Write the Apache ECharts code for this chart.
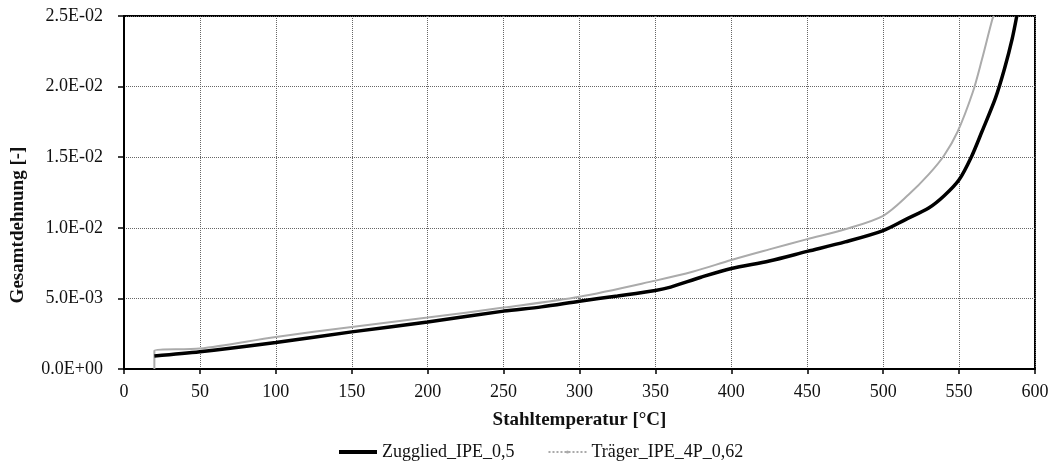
<!DOCTYPE html>
<html>
<head>
<meta charset="utf-8">
<script src="https://cdn.jsdelivr.net/npm/echarts@6/dist/echarts.min.js"></script>
<style>
  html, body { margin: 0; padding: 0; background: #fff; }
  #chart { width: 1053px; height: 462px; }
</style>
</head>
<body>
<div id="chart"></div>
<script>
// Temperaturen [°C] und Gesamtdehnung [-]
var zuggliedTemp = [20, 50, 100, 150, 200, 250, 275, 300, 325, 350, 360, 380, 400, 425, 450, 475, 500, 515, 530, 540, 550, 558, 565, 574, 580, 585, 588];
var zuggliedDehnung = [0.00092, 0.00122, 0.00188, 0.00263, 0.00333, 0.0041, 0.0044, 0.0048, 0.00517, 0.00556, 0.0058, 0.0065, 0.00712, 0.00765, 0.00833, 0.009, 0.0098, 0.0106, 0.0114, 0.01225, 0.0134, 0.015, 0.0168, 0.0192, 0.0213, 0.0234, 0.025];

var traegerTemp = [20, 20, 50, 100, 150, 200, 250, 300, 350, 375, 400, 425, 450, 475, 500, 517, 530, 540, 549, 559, 565, 572, 573];
var traegerDehnung = [0, 0.00129, 0.00145, 0.00227, 0.00298, 0.00364, 0.00435, 0.00512, 0.00626, 0.0069, 0.00772, 0.00847, 0.0092, 0.0099, 0.01085, 0.01237, 0.01378, 0.0151, 0.0168, 0.0196, 0.0219, 0.0248, 0.025];

var seriesNames = ['Zugglied_IPE_0,5', 'Träger_IPE_4P_0,62'];

function pairs(xs, ys) {
    var out = [];
    for (var i = 0; i < xs.length; i++) out.push([xs[i], ys[i]]);
    return out;
}

// 2.5E-02 Schreibweise wie in Excel
function expLabel(v) {
    if (v === 0) return '0.0E+00';
    var parts = v.toExponential(1).split('e');
    var e = parseInt(parts[1], 10);
    var sign = e < 0 ? '-' : '+';
    var abs = Math.abs(e);
    return parts[0] + 'E' + sign + (abs < 10 ? '0' + abs : abs);
}

var font = 'Liberation Serif';
var chart = echarts.init(document.getElementById('chart'));

chart.setOption({
    animation: false,
    grid: {
        left: 124, right: 18, top: 16, bottom: 93,
        show: true, borderColor: '#000', borderWidth: 2
    },
    // y-Achsentitel sitzt im Original etwas unterhalb der Mitte
    graphic: [{
        type: 'text',
        x: 18, y: 225,
        rotation: Math.PI / 2,
        style: {
            text: 'Gesamtdehnung [-]',
            fontFamily: font, fontSize: 19, fontWeight: 'bold', fill: '#111',
            align: 'center', verticalAlign: 'middle'
        }
    }],
    legend: {
        data: [
            { name: seriesNames[0], lineStyle: { width: 4, color: '#000' } },
            { name: seriesNames[1], lineStyle: { width: 2, color: '#aaa', type: 'dotted' } }
        ],
        left: 332, top: 438,
        itemWidth: 38, itemHeight: 4, itemGap: 33,
        textStyle: { fontFamily: font, fontSize: 18, color: '#111' }
    },
    xAxis: {
        type: 'value',
        min: 0, max: 600, interval: 50,
        name: 'Stahltemperatur [°C]',
        nameLocation: 'middle',
        nameGap: 42,
        nameTextStyle: { fontFamily: font, fontSize: 19, fontWeight: 'bold', color: '#111' },
        axisLine: { lineStyle: { color: '#000', width: 2 } },
        axisTick: { length: 5, lineStyle: { color: '#000', width: 1.5 } },
        axisLabel: { margin: 14, fontFamily: font, fontSize: 18, color: '#111' },
        splitLine: { show: true, lineStyle: { color: '#666', type: 'dotted', width: 1 } }
    },
    yAxis: {
        type: 'value',
        min: 0, max: 0.025, interval: 0.005,
        axisLine: { show: true, lineStyle: { color: '#000', width: 2 } },
        axisTick: { show: true, length: 6, lineStyle: { color: '#000', width: 1.5 } },
        axisLabel: { margin: 21, fontFamily: font, fontSize: 18, color: '#111', formatter: expLabel },
        splitLine: { show: true, lineStyle: { color: '#666', type: 'dotted', width: 1 } }
    },
    series: [
        {
            name: seriesNames[0],
            type: 'line',
            data: pairs(zuggliedTemp, zuggliedDehnung),
            symbol: 'none',
            smooth: 0.3,
            color: '#000',
            lineStyle: { color: '#000', width: 3.5 },
            z: 3
        },
        {
            name: seriesNames[1],
            type: 'line',
            data: pairs(traegerTemp, traegerDehnung),
            symbol: 'none',
            smooth: 0.3,
            color: '#aaa',
            lineStyle: { color: '#ababab', width: 2 },
            z: 2
        }
    ]
});
</script>
</body>
</html>
